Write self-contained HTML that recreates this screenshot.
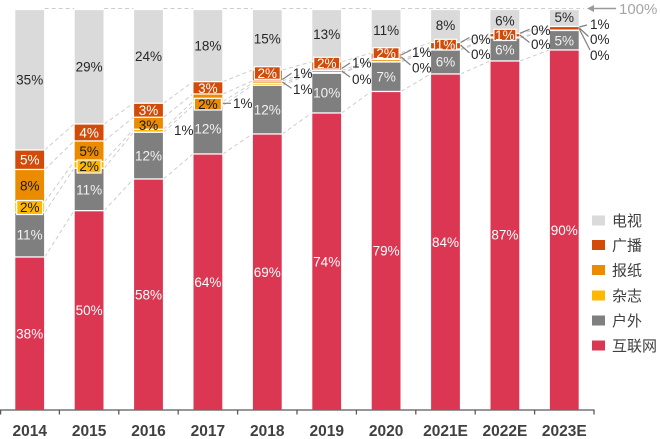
<!DOCTYPE html>
<html>
<head>
<meta charset="utf-8">
<style>
html,body{margin:0;padding:0;background:#fff;}
svg{display:block;}
text{font-family:"Liberation Sans","Noto Sans CJK SC",sans-serif;}
</style>
</head>
<body>
<svg width="660" height="439" viewBox="0 0 660 439" xmlns="http://www.w3.org/2000/svg">
<!-- series dashed lines -->
<g fill="none" stroke="#cdcdcd" stroke-width="1" stroke-dasharray="4 3">
<path d="M44.7 257L74.1 210.7M104.1 210.7L133.5 179M163.5 179L192.9 154M222.9 154L252.3 134M282.3 134L311.7 113M341.7 113L371.1 91.5M401.1 91.5L430.5 74M460.5 74L489.9 61M519.9 61L549.3 50"/>
<path d="M44.7 212.5L74.1 168.3M104.1 168.3L133.5 132.3M163.5 132.3L192.9 105.5M222.9 105.5L252.3 85.3M282.3 85.3L311.7 73.3M341.7 73.3L371.1 62M401.1 62L430.5 50M460.5 50L489.9 38M519.9 38L549.3 30.5"/>
<path d="M44.7 202L74.1 161.5M104.1 161.5L133.5 129.3M163.5 129.3L192.9 101.5M222.9 101.5L252.3 83.3M282.3 83.3L311.7 72.5M341.7 72.5L371.1 61.5M401.1 61.5L430.5 49.6M460.5 49.6L489.9 37.6M519.9 37.6L549.3 30.3"/>
<path d="M44.7 169.5L74.1 141M104.1 141L133.5 117.3M163.5 117.3L192.9 94M222.9 94L252.3 81M282.3 81L311.7 70.5M341.7 70.5L371.1 59.5M401.1 59.5L430.5 49M460.5 49L489.9 37M519.9 37L549.3 30.1"/>
<path d="M44.7 150L74.1 124M104.1 124L133.5 103.3M163.5 103.3L192.9 81.7M222.9 81.7L252.3 70M282.3 70L311.7 61.8M341.7 61.8L371.1 53M401.1 53L430.5 42.5M460.5 42.5L489.9 33.5M519.9 33.5L549.3 26.5"/>
<path d="M44.7 8.5L74.1 8.5M104.1 8.5L133.5 8.5M163.5 8.5L192.9 8.5M222.9 8.5L252.3 8.5M282.3 8.5L311.7 8.5M341.7 8.5L371.1 8.5M401.1 8.5L584 8.5"/>
</g>

<!-- bars -->
<g stroke="#fff" stroke-width="1.2">
<rect x="14.7" y="9.5" width="30" height="140.5" fill="#dadada"/>
<rect x="14.7" y="150" width="30" height="19.5" fill="#d24b08"/>
<rect x="14.7" y="169.5" width="30" height="32.5" fill="#ea8b00"/>
<rect x="14.7" y="202" width="30" height="10.5" fill="#ffb700"/>
<rect x="14.7" y="212.5" width="30" height="44.5" fill="#7f7f7f"/>
<rect x="14.7" y="257" width="30" height="153" fill="#db3752"/>
<rect x="74.1" y="9.5" width="30" height="114.5" fill="#dadada"/>
<rect x="74.1" y="124" width="30" height="17" fill="#d24b08"/>
<rect x="74.1" y="141" width="30" height="20.5" fill="#ea8b00"/>
<rect x="74.1" y="161.5" width="30" height="6.8" fill="#ffb700"/>
<rect x="74.1" y="168.3" width="30" height="42.4" fill="#7f7f7f"/>
<rect x="74.1" y="210.7" width="30" height="199.3" fill="#db3752"/>
<rect x="133.5" y="9.5" width="30" height="93.8" fill="#dadada"/>
<rect x="133.5" y="103.3" width="30" height="14" fill="#d24b08"/>
<rect x="133.5" y="117.3" width="30" height="12" fill="#ea8b00"/>
<rect x="133.5" y="129.3" width="30" height="3" fill="#ffb700"/>
<rect x="133.5" y="132.3" width="30" height="46.7" fill="#7f7f7f"/>
<rect x="133.5" y="179" width="30" height="231" fill="#db3752"/>
<rect x="192.9" y="9.5" width="30" height="72.2" fill="#dadada"/>
<rect x="192.9" y="81.7" width="30" height="12.3" fill="#d24b08"/>
<rect x="192.9" y="94" width="30" height="7.5" fill="#ea8b00"/>
<rect x="192.9" y="101.5" width="30" height="4" fill="#ffb700"/>
<rect x="192.9" y="105.5" width="30" height="48.5" fill="#7f7f7f"/>
<rect x="192.9" y="154" width="30" height="256" fill="#db3752"/>
<rect x="252.3" y="9.5" width="30" height="60.5" fill="#dadada"/>
<rect x="252.3" y="70" width="30" height="11" fill="#d24b08"/>
<rect x="252.3" y="81" width="30" height="2.3" fill="#ea8b00"/>
<rect x="252.3" y="83.3" width="30" height="2" fill="#ffb700"/>
<rect x="252.3" y="85.3" width="30" height="48.7" fill="#7f7f7f"/>
<rect x="252.3" y="134" width="30" height="276" fill="#db3752"/>
<rect x="311.7" y="9.5" width="30" height="52.3" fill="#dadada"/>
<rect x="311.7" y="61.8" width="30" height="8.7" fill="#d24b08"/>
<rect x="311.7" y="70.5" width="30" height="2" fill="#ea8b00"/>
<rect x="311.7" y="73.3" width="30" height="39.7" fill="#7f7f7f"/>
<rect x="311.7" y="113" width="30" height="297" fill="#db3752"/>
<rect x="371.1" y="9.5" width="30" height="43.5" fill="#dadada"/>
<rect x="371.1" y="53" width="30" height="6.5" fill="#d24b08"/>
<rect x="371.1" y="59.5" width="30" height="2" fill="#ea8b00"/>
<rect x="371.1" y="62" width="30" height="29.5" fill="#7f7f7f"/>
<rect x="371.1" y="91.5" width="30" height="318.5" fill="#db3752"/>
<rect x="430.5" y="9.5" width="30" height="33" fill="#dadada"/>
<rect x="430.5" y="42.5" width="30" height="6.5" fill="#d24b08"/>
<rect x="430.5" y="50" width="30" height="24" fill="#7f7f7f"/>
<rect x="430.5" y="74" width="30" height="336" fill="#db3752"/>
<rect x="489.9" y="9.5" width="30" height="24" fill="#dadada"/>
<rect x="489.9" y="33.5" width="30" height="3.5" fill="#d24b08"/>
<rect x="489.9" y="38" width="30" height="23" fill="#7f7f7f"/>
<rect x="489.9" y="61" width="30" height="349" fill="#db3752"/>
<rect x="549.3" y="9.5" width="30" height="17" fill="#dadada"/>
<rect x="549.3" y="26.5" width="30" height="3.6" fill="#d24b08"/>
<rect x="549.3" y="30.5" width="30" height="19.5" fill="#7f7f7f"/>
<rect x="549.3" y="50" width="30" height="360" fill="#db3752"/>

<rect x="16.7" y="200.5" width="26" height="14" fill="#ffb700"/>
<rect x="77.1" y="160" width="24" height="13" fill="#ffb700"/>
<rect x="194.4" y="98.3" width="27" height="11.7" fill="#ea8b00"/>
<rect x="254.3" y="66.7" width="26" height="12.6" fill="#d24b08"/>
<rect x="313.7" y="57.3" width="26" height="11.7" fill="#d24b08"/>
<rect x="373.1" y="47.7" width="26" height="10.8" fill="#d24b08"/>
<rect x="434.5" y="39.3" width="22" height="10.7" fill="#d24b08"/>
<rect x="493.9" y="29.3" width="22" height="11.2" fill="#d24b08"/>
</g>

<!-- leader lines -->
<g stroke="#7f7f7f" stroke-width="1.2" fill="none">
<path d="M222.9 103.3L231 103.3"/>
<path d="M282.3 79.5L291.5 73.3M282.3 82L291.5 88.3"/>
<path d="M341.7 68.5L350 63M341.7 71L350 77"/>
<path d="M401.1 55L411 50M401.1 57L410.5 65"/>
<path d="M460.5 42.5L469.5 37.5M460.5 45L469.5 53"/>
<path d="M519.9 33.3L529.5 29.3M519.9 35L529.5 42.5"/>
<path d="M579.3 27L587 25M579.3 28L588.5 36.5M579.3 29L590 50"/>
</g>

<!-- data labels -->
<g font-size="13.5" text-anchor="middle">
<g fill="#262626">
<text x="29.7" y="84.5">35%</text>
<text x="89.1" y="71.5">29%</text>
<text x="148.5" y="61.2">24%</text>
<text x="207.9" y="50.4">18%</text>
<text x="267.3" y="43.3">15%</text>
<text x="326.7" y="38.8">13%</text>
<text x="386.1" y="34.8">11%</text>
<text x="445.5" y="29.8">8%</text>
<text x="504.9" y="25.3">6%</text>
<text x="564.3" y="21.8">5%</text>
</g>
<g fill="#fff">
<text x="29.7" y="164.6">5%</text>
<text x="89.1" y="137.3">4%</text>
<text x="148.5" y="115.1">3%</text>
<text x="207.9" y="92.8">3%</text>
<text x="267.3" y="77.8">2%</text>
<text x="326.7" y="67.8">2%</text>
<text x="386.1" y="57.8">2%</text>
<text x="445.5" y="49.5">1%</text>
<text x="504.9" y="39.8">1%</text>
</g>
<g fill="#1a1a1a">
<text x="29.7" y="190.6">8%</text>
<text x="29.7" y="211.8">2%</text>
<text x="89.1" y="156">5%</text>
<text x="89.1" y="171.1">2%</text>
<text x="148.5" y="129.8">3%</text>
<text x="207.9" y="109">2%</text>
</g>
<g fill="#f2f2f2">
<text x="29.7" y="239.5">11%</text>
<text x="89.1" y="194.3">11%</text>
<text x="148.5" y="160.4">12%</text>
<text x="207.9" y="133.5">12%</text>
<text x="267.3" y="114.5">12%</text>
<text x="326.7" y="97.3">10%</text>
<text x="386.1" y="81.5">7%</text>
<text x="445.5" y="66.3">6%</text>
<text x="504.9" y="54.3">6%</text>
<text x="564.3" y="45.3">5%</text>
</g>
<g fill="#fff">
<text x="29.7" y="338.3">38%</text>
<text x="89.1" y="315.1">50%</text>
<text x="148.5" y="299.3">58%</text>
<text x="207.9" y="286.8">64%</text>
<text x="267.3" y="276.8">69%</text>
<text x="326.7" y="266.3">74%</text>
<text x="386.1" y="255.5">79%</text>
<text x="445.5" y="247">84%</text>
<text x="504.9" y="239.3">87%</text>
<text x="564.3" y="234.8">90%</text>
</g>
</g>

<!-- outside labels -->
<g font-size="13.5" fill="#262626">
<text x="174" y="134.8">1%</text>
<text x="233" y="108.1">1%</text>
<text x="293" y="78.1">1%</text>
<text x="293" y="94.1">1%</text>
<text x="352" y="67.4">1%</text>
<text x="352" y="84.1">0%</text>
<text x="412" y="56.8">1%</text>
<text x="412" y="72.3">0%</text>
<text x="471" y="44.1">0%</text>
<text x="471" y="59.1">0%</text>
<text x="531" y="34.8">0%</text>
<text x="531" y="49.1">0%</text>
<text x="590" y="28.8">1%</text>
<text x="590" y="44.1">0%</text>
<text x="590" y="59.8">0%</text>
</g>

<!-- 100% arrow -->
<line x1="592" y1="8.5" x2="616" y2="8.5" stroke="#9a9a9a" stroke-width="1.5"/>
<polygon points="587,8.5 594,5 594,12" fill="#9a9a9a"/>
<text x="619" y="14" font-size="15" fill="#a6a6a6">100%</text>

<!-- axis -->
<g stroke="#595959" stroke-width="1.3">
<line x1="0" y1="410" x2="594.5" y2="410"/>
<path d="M0.6 410V414.5M59.4 410V414.5M118.8 410V414.5M178.2 410V414.5M237.6 410V414.5M297 410V414.5M356.4 410V414.5M415.8 410V414.5M475.2 410V414.5M534.6 410V414.5M594 410V414.5"/>
</g>
<g font-size="15.5" font-weight="bold" fill="#404040" text-anchor="middle">
<text x="29.7" y="436">2014</text>
<text x="89.1" y="436">2015</text>
<text x="148.5" y="436">2016</text>
<text x="207.9" y="436">2017</text>
<text x="267.3" y="436">2018</text>
<text x="326.7" y="436">2019</text>
<text x="386.1" y="436">2020</text>
<text x="445.5" y="436">2021E</text>
<text x="504.9" y="436">2022E</text>
<text x="564.3" y="436">2023E</text>
</g>

<!-- legend -->
<rect x="592" y="215.5" width="13" height="10" fill="#dadada"/>
<rect x="592" y="240" width="13" height="10" fill="#d24b08"/>
<rect x="592" y="265" width="13" height="10" fill="#ea8b00"/>
<rect x="592" y="290.5" width="13" height="10" fill="#ffb700"/>
<rect x="592" y="315.5" width="13" height="10" fill="#7f7f7f"/>
<rect x="592" y="340.5" width="13" height="10" fill="#db3752"/>
<g font-size="15" fill="#404040">
<text x="612" y="226">电视</text>
<text x="612" y="250.5">广播</text>
<text x="612" y="275.5">报纸</text>
<text x="612" y="301">杂志</text>
<text x="612" y="326">户外</text>
<text x="612" y="351">互联网</text>
</g>
</svg>
</body>
</html>
